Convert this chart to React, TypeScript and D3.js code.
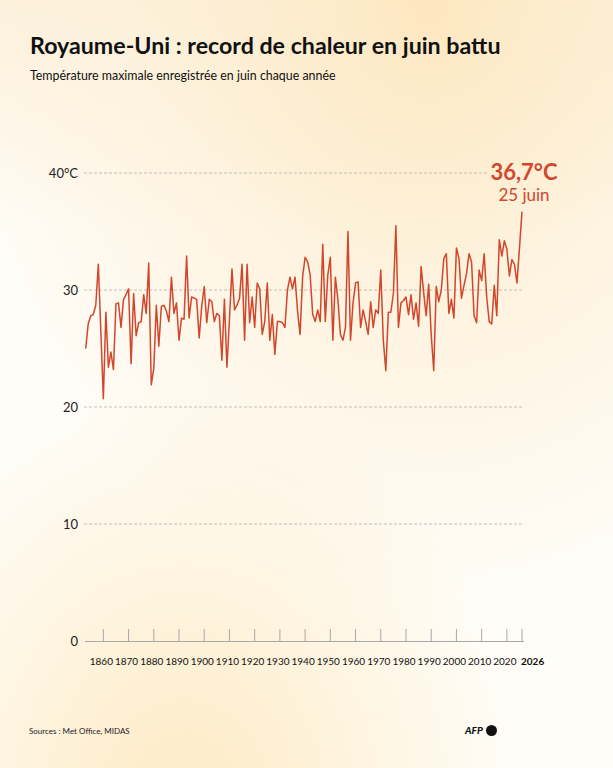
import React from "react";
import * as d3 from "d3";

// June maximum temperature (°C) in the UK, one value per year from 1853
const startYear = 1853;
const juneMax = [
  25.0, 27.1, 27.8, 27.9, 28.7, 32.2, 26.5, 20.7, 28.1, 23.4,
  24.7, 23.2, 28.8, 28.9, 26.8, 29.2, 29.6, 30.1, 23.7, 29.7,
  26.1, 27.2, 27.3, 29.6, 28.0, 32.3, 21.9, 23.3, 28.7, 25.2,
  28.6, 28.7, 28.2, 27.3, 31.1, 28.0, 28.9, 25.7, 27.6, 27.5,
  32.9, 27.6, 29.4, 29.3, 29.2, 25.9, 28.6, 30.3, 27.2, 29.2,
  29.0, 27.3, 28.0, 27.8, 24.0, 29.2, 23.4, 27.5, 31.8, 28.3,
  28.7, 29.3, 32.2, 25.7, 32.2, 27.2, 29.4, 26.8, 30.6, 30.1,
  26.2, 27.3, 30.6, 25.7, 27.9, 24.5, 27.3, 27.3, 27.2, 26.8,
  30.0, 31.1, 30.1, 31.1, 28.2, 26.2, 31.1, 32.8, 32.4, 31.3,
  27.9, 27.3, 28.3, 27.3, 33.9, 27.3, 31.3, 32.8, 25.7, 31.1,
  29.2, 26.2, 25.7, 26.8, 35.0, 25.7, 28.9, 30.6, 30.7, 26.8,
  28.3, 27.3, 26.2, 29.0, 26.8, 28.3, 28.0, 31.7, 25.7, 23.1,
  28.1, 28.1, 29.7, 35.5, 26.8, 28.9, 29.1, 29.4, 27.9, 29.6,
  27.5, 28.9, 26.9, 32.0, 29.8, 27.8, 30.5, 26.2, 23.1, 30.3,
  29.0, 30.0, 32.7, 33.1, 28.0, 29.2, 27.6, 33.6, 32.7, 29.3,
  30.4, 31.4, 33.1, 32.4, 27.8, 27.2, 31.7, 30.8, 33.1, 29.4,
  27.3, 27.1, 30.4, 27.8, 34.3, 32.9, 34.2, 33.5, 31.2, 32.6,
  32.2, 30.6, 33.6, 36.7,
];
const years = juneMax.map((_, i) => startYear + i);

const yTicks = [0, 10, 20, 30, 40];
const xTicks = [1860, 1870, 1880, 1890, 1900, 1910, 1920, 1930, 1940, 1950, 1960, 1970, 1980, 1990, 2000, 2010, 2020, 2026];
const recordDay = "25 juin";

const W = 613;
const H = 768;
const RED = "#d2462b";
const FONT = "Lato, 'Open Sans', sans-serif";

export default function App() {
  const x = d3.scaleLinear().domain([startYear, 2026]).range([85.7, 522]);
  const y = d3.scaleLinear().domain([0, 40]).range([641, 173]);

  const data = years.map((yr, i) => ({ year: yr, value: juneMax[i] }));
  const line = d3
    .line<{ year: number; value: number }>()
    .x((d) => x(d.year))
    .y((d) => y(d.value));

  const last = data[data.length - 1];
  const lastLabel = `${last.value.toFixed(1).replace(".", ",")}°C`;

  return (
    <svg
      width={W}
      height={H}
      style={{ position: "absolute", top: 0, left: 0, display: "block" }}
      fontFamily={FONT}
    >
      <defs>
        <radialGradient id="glowTop" cx="0.7" cy="0" r="0.8">
          <stop offset="0" stopColor="#fde7bf" />
          <stop offset="0.6" stopColor="#fdf0d8" stopOpacity="0.6" />
          <stop offset="1" stopColor="#fdf0d8" stopOpacity="0" />
        </radialGradient>
        <radialGradient id="glowBottom" cx="0.3" cy="1.05" r="0.55">
          <stop offset="0" stopColor="#fdeac4" />
          <stop offset="1" stopColor="#fdeac4" stopOpacity="0" />
        </radialGradient>
        <linearGradient id="bandTop" x1="0" y1="0" x2="0" y2="1">
          <stop offset="0" stopColor="#fcf1dc" />
          <stop offset="0.3" stopColor="#fcf1dc" stopOpacity="0" />
        </linearGradient>
      </defs>

      {/* warm background */}
      <rect width={W} height={H} fill="#fffdf8" />
      <rect width={W} height={H} fill="url(#bandTop)" />
      <rect width={W} height={H} fill="url(#glowTop)" />
      <rect width={W} height={H} fill="url(#glowBottom)" />

      {/* titles */}
      <text x={30} y={54} fontSize={23.2} fontWeight={700} fill="#111">
        Royaume-Uni : record de chaleur en juin battu
      </text>
      <text x={30} y={80} fontSize={12.4} fill="#111">
        Température maximale enregistrée en juin chaque année
      </text>

      {/* horizontal grid */}
      {yTicks.filter((t) => t > 0).map((t) => (
        <line
          key={t}
          x1={84}
          x2={t === 40 ? 488 : 524}
          y1={y(t)}
          y2={y(t)}
          stroke="#b5b2ab"
          strokeWidth={0.8}
          strokeDasharray="3,2"
        />
      ))}
      {yTicks.map((t) => (
        <text key={t} x={78} y={y(t) + 4.5} fontSize={13} fill="#222" textAnchor="end">
          {t === 40 ? "40°C" : t}
        </text>
      ))}

      {/* x axis */}
      <line x1={85} x2={524} y1={641.5} y2={641.5} stroke="#a8a8a8" strokeWidth={1} />
      {xTicks.map((t) => (
        <g key={t}>
          <line x1={x(t)} x2={x(t)} y1={629} y2={641.5} stroke="#a8a8a8" strokeWidth={1} />
          <text
            x={t === 2026 ? x(t) - 1 : x(t) - 2}
            y={665}
            fontSize={10}
            textAnchor={t === 2026 ? "start" : "middle"}
            fill="#111"
            fontWeight={t === 2026 ? 700 : 400}
          >
            {t}
          </text>
        </g>
      ))}

      {/* temperature line */}
      <path d={line(data) || ""} fill="none" stroke={RED} strokeWidth={1.5} strokeLinejoin="round" />

      {/* record annotation */}
      <text x={x(last.year) + 2} y={180} fontSize={22} fontWeight={700} fill={RED} textAnchor="middle">
        {lastLabel}
      </text>
      <text x={x(last.year) + 2} y={201} fontSize={17} fill={RED} textAnchor="middle">
        {recordDay}
      </text>

      {/* footer */}
      <text x={29} y={734} fontSize={8} fill="#222">
        Sources : Met Office, MIDAS
      </text>
      <text x={465} y={734} fontSize={10} fontWeight={900} fontStyle="italic" fill="#111">
        AFP
      </text>
      <circle cx={491.5} cy={730.5} r={5.5} fill="#111" />
    </svg>
  );
}
